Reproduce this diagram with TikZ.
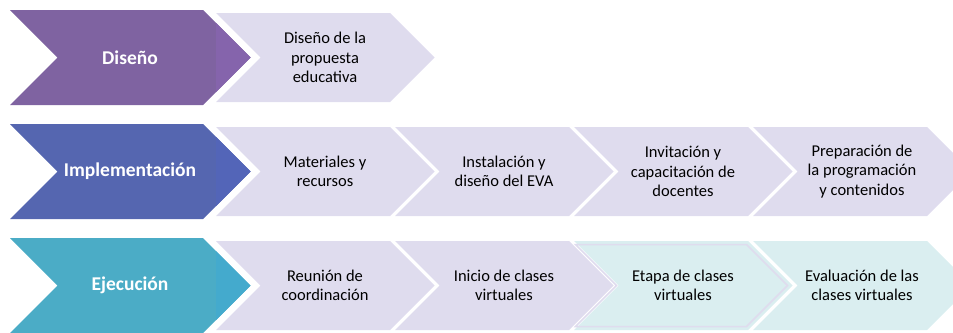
\documentclass[tikz,border=0pt]{standalone}
\usepackage{fontspec}
\setmainfont{Carlito}
\usetikzlibrary{positioning}

\definecolor{disenocol}{HTML}{7F63A1}
\definecolor{disenotip}{HTML}{8564AC}
\definecolor{implcol}{HTML}{5566B0}
\definecolor{impltip}{HTML}{5365B8}
\definecolor{ejeccol}{HTML}{4BACC6}
\definecolor{ejectip}{HTML}{44AACD}
\definecolor{lavender}{HTML}{DFDCEE}
\definecolor{lightteal}{HTML}{DAEEF0}

\tikzset{
  phaselabel/.style={text=white,font=\fontsize{19.5}{23}\selectfont\bfseries,align=center},
  tasklabel/.style={text=black,font=\fontsize{16.5}{19.5}\selectfont,align=center}
}

\begin{document}
\begin{tikzpicture}[x=1pt,y=1pt]
\useasboundingbox (0,0) rectangle (953,-332);
\clip (0,0) rectangle (953,-332);

% row 1
\fill[lavender] (216,-13) -- (390,-13) -- (434.5,-57.5) -- (390,-102) -- (216,-102) -- (260.5,-57.5) -- cycle;
\fill[disenocol] (10,-10) -- (203,-10) -- (250.5,-57.5) -- (203,-105) -- (10,-105) -- (57.5,-57.5) -- cycle;
\fill[disenotip] (216,-23) -- (250.5,-57.5) -- (216,-92) -- cycle;
\node[phaselabel] (diseno) at (130,-57.5) {Diseño};
\node[tasklabel] (propuesta) at (325,-57.5) {Diseño de la\\propuesta\\educativa};

% row 2
\fill[lavender] (216,-127) -- (390,-127) -- (434.5,-171.5) -- (390,-216) -- (216,-216) -- (260.5,-171.5) -- cycle;
\fill[lavender] (395,-127) -- (569,-127) -- (613.5,-171.5) -- (569,-216) -- (395,-216) -- (439.5,-171.5) -- cycle;
\fill[lavender] (574,-127) -- (748,-127) -- (792.5,-171.5) -- (748,-216) -- (574,-216) -- (618.5,-171.5) -- cycle;
\fill[lavender] (753,-127) -- (927,-127) -- (971.5,-171.5) -- (927,-216) -- (753,-216) -- (797.5,-171.5) -- cycle;
\fill[implcol] (10,-124) -- (203,-124) -- (250.5,-171.5) -- (203,-219) -- (10,-219) -- (57.5,-171.5) -- cycle;
\fill[impltip] (216,-137) -- (250.5,-171.5) -- (216,-206) -- cycle;
\node[phaselabel] (implementacion) at (130,-171.5) {Implementación};
\node[tasklabel] (materiales) at (325,-171.5) {Materiales y\\recursos};
\node[tasklabel] (instalacion) at (504,-171.5) {Instalación y\\diseño del EVA};
\node[tasklabel] (invitacion) at (683,-171.5) {Invitación y\\capacitación de\\docentes};
\node[tasklabel] (preparacion) at (862,-171.5) {Preparación de\\la programación\\y contenidos};

% row 3
\fill[lavender] (216,-241) -- (390,-241) -- (434.5,-285.5) -- (390,-330) -- (216,-330) -- (260.5,-285.5) -- cycle;
\fill[lavender] (395,-241) -- (569,-241) -- (613.5,-285.5) -- (569,-330) -- (395,-330) -- (439.5,-285.5) -- cycle;
\fill[lightteal] (574,-241) -- (748,-241) -- (792.5,-285.5) -- (748,-330) -- (574,-330) -- (618.5,-285.5) -- cycle;
\draw[lavender,line width=1.5pt] (575.5,-244.5) -- (746.5,-244.5) -- (787.5,-285.5) -- (746.5,-326.5) -- (575.5,-326.5) -- (616.5,-285.5) -- cycle;
\fill[lightteal] (753,-241) -- (927,-241) -- (971.5,-285.5) -- (927,-330) -- (753,-330) -- (797.5,-285.5) -- cycle;
\fill[ejeccol] (10,-238) -- (203,-238) -- (250.5,-285.5) -- (203,-333) -- (10,-333) -- (57.5,-285.5) -- cycle;
\fill[ejectip] (216,-251) -- (250.5,-285.5) -- (216,-320) -- cycle;
\node[phaselabel] (ejecucion) at (130,-285.5) {Ejecución};
\node[tasklabel] (reunion) at (325,-285.5) {Reunión de\\coordinación};
\node[tasklabel] (inicio) at (504,-285.5) {Inicio de clases\\virtuales};
\node[tasklabel] (etapa) at (683,-285.5) {Etapa de clases\\virtuales};
\node[tasklabel] (evaluacion) at (862,-285.5) {Evaluación de las\\clases virtuales};
\end{tikzpicture}
\end{document}
